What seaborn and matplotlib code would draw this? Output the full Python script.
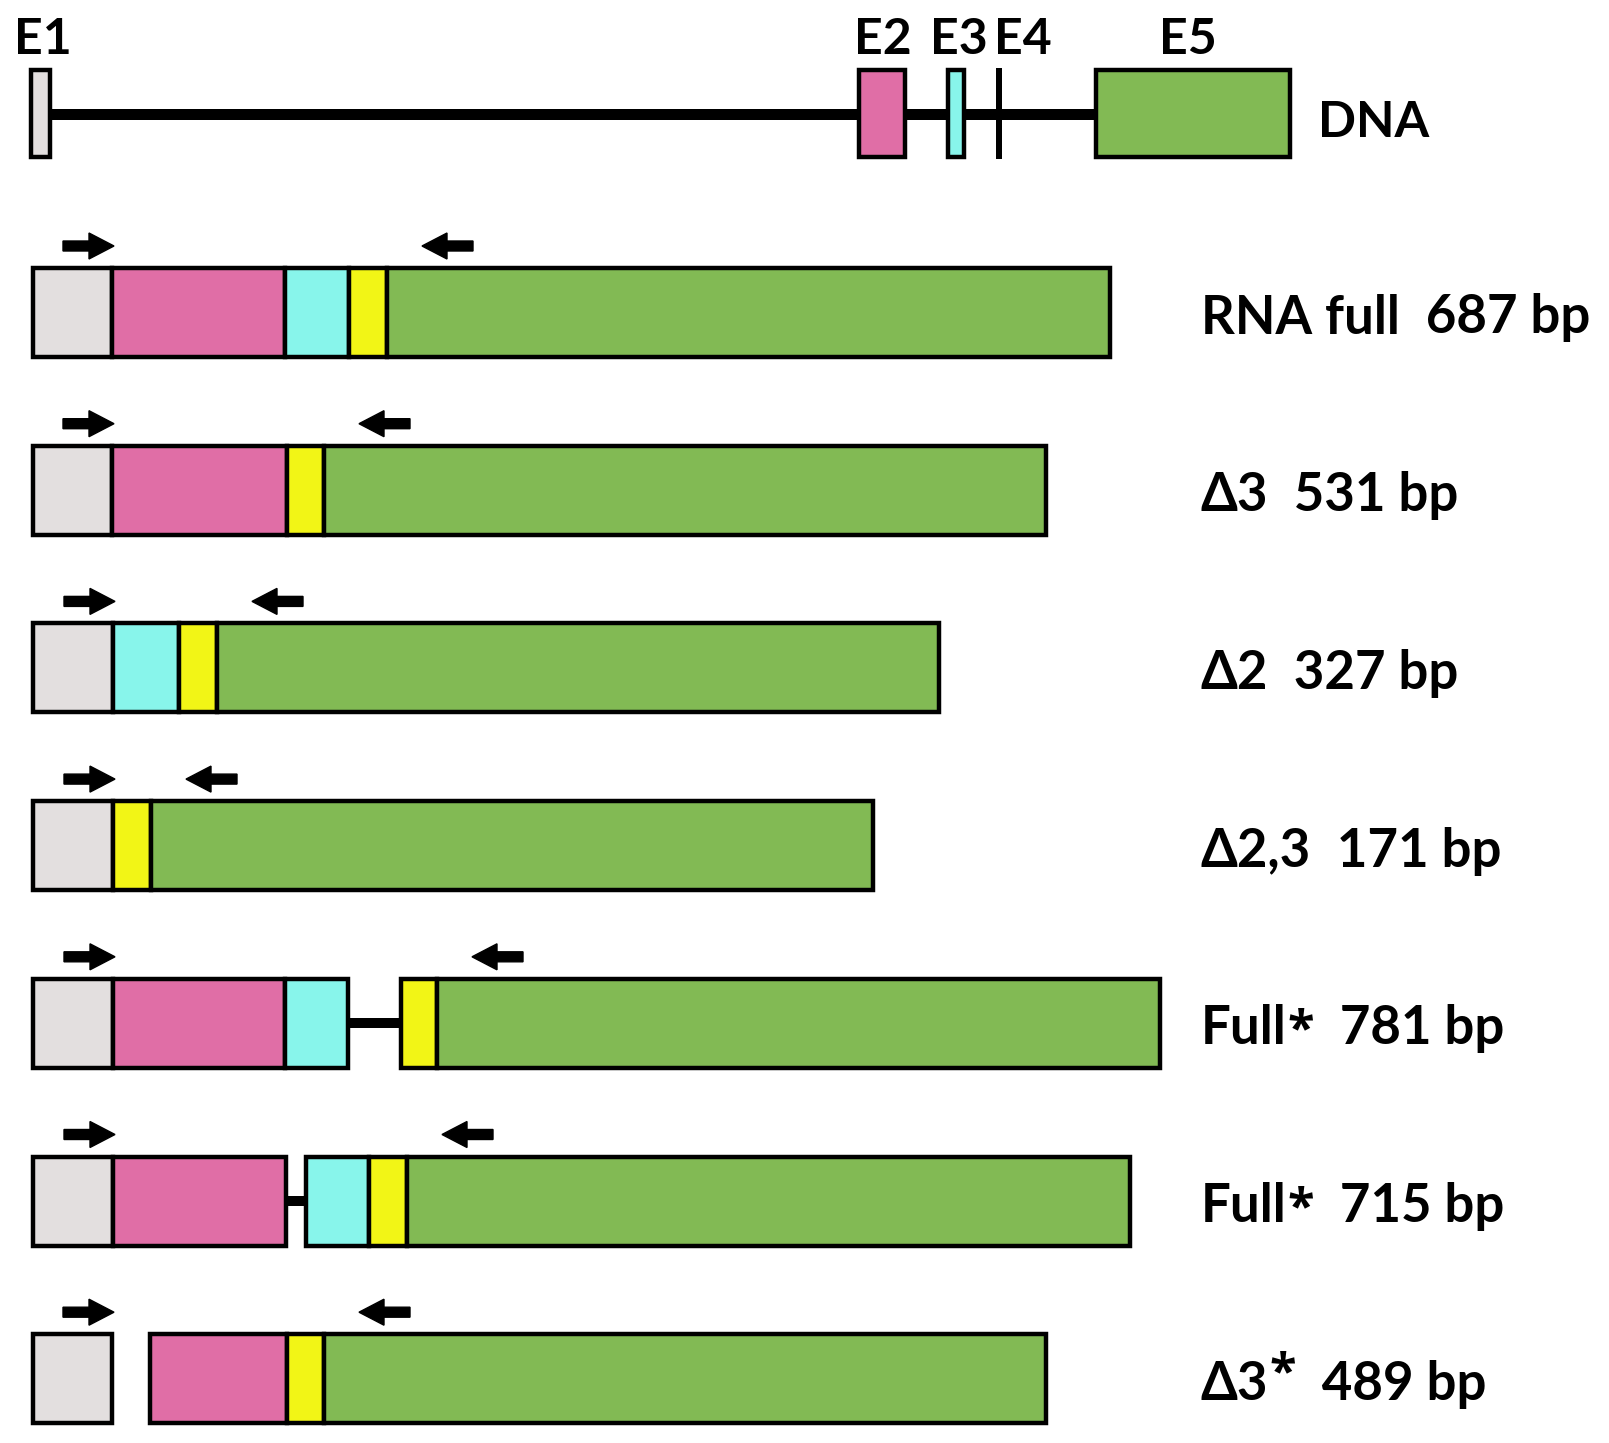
import matplotlib
matplotlib.use("Agg")
import matplotlib.pyplot as plt
import seaborn as sns
import pandas as pd

# ---------------- data ----------------
exon_names = ["E1", "E2", "E3", "E4", "E5"]
exon_colors = ["#E3DFDF", "#E06EA6", "#88F5EB", "#F2F516", "#82BA54"]

# genomic (DNA) exon extents
dna_exon_start = [31, 859, 948, 999, 1096]
dna_exon_end = [50, 905, 964, 999, 1290]

# transcript compositions: (exon or gap, length); gap tuples carry connector flag
transcripts = [
    [("E1", 79), ("E2", 173), ("E3", 64), ("E4", 38), ("E5", 723)],
    [("E1", 79), ("E2", 175), ("E4", 37), ("E5", 722)],
    [("E1", 80), ("E3", 66), ("E4", 38), ("E5", 722)],
    [("E1", 80), ("E4", 38), ("E5", 722)],
    [("E1", 80), ("E2", 172), ("E3", 63), ("gap", 53, True), ("E4", 36), ("E5", 723)],
    [("E1", 80), ("E2", 173), ("gap", 20, True), ("E3", 63), ("E4", 38), ("E5", 723)],
    [("E1", 79), ("gap", 38, False), ("E2", 137), ("E4", 37), ("E5", 722)],
]
transcript_names = ["RNA full", "\u03943", "\u03942", "\u03942,3", "Full", "Full", "\u03943"]
transcript_mark = ["", "", "", "", "*", "*", "*"]
mark_raised = [False, False, False, False, False, False, True]
transcript_sizes = ["687 bp", "531 bp", "327 bp", "171 bp", "781 bp", "715 bp", "489 bp"]

rev_primer_offset_in_E5 = 35
primer_length = 51

# ---------------- figure ----------------
W, H = 1609, 1443
sns.set_theme(style="white")
plt.rcParams["font.family"] = ["Lato", "Open Sans", "DejaVu Sans"]

fig = plt.figure(figsize=(W / 100, H / 100), dpi=100)
ax = fig.add_axes([0, 0, 1, 1])
ax.set_xlim(0, W)
ax.set_ylim(H, 0)
ax.axis("off")

color_of = dict(zip(exon_names, exon_colors))
EDGE = 3.2
PX = 0.72  # points per pixel

# ---- DNA ----
dna_top, dna_bot = 70, 157
dna_y = (dna_top + dna_bot) / 2
ax.plot([dna_exon_end[0], dna_exon_start[4]], [114, 114], color="black", lw=11 * PX, zorder=1,
        solid_capstyle="butt")
for name, s, e in zip(exon_names, dna_exon_start, dna_exon_end):
    if e - s < 1:
        ax.plot([s, s], [dna_top - 2, dna_bot + 2], color="black", lw=6 * PX, zorder=3,
                solid_capstyle="butt")
    else:
        ax.barh(dna_y, e - s, left=s, height=dna_bot - dna_top, color=color_of[name],
                edgecolor="black", linewidth=EDGE, zorder=3)

label_font = dict(fontsize=36, fontweight="bold", color="black")
dna_label_x = [43, 883, 959, 1023, 1188]
for name, lx in zip(exon_names, dna_label_x):
    ax.text(lx, 54, name, ha="center", va="baseline", **label_font)
ax.text(1318, 137, "DNA", ha="left", va="baseline", **label_font)

# ---- transcripts ----
row_top0, pitch, row_h = 268, 177.7, 89
x0 = 33
right_font = dict(fontsize=38, fontweight="bold", color="black")
mark_font = dict(fontsize=35, fontweight="bold", color="black",
                 family=["Open Sans", "DejaVu Sans"])

fig.canvas.draw()
renderer = fig.canvas.get_renderer()
inv = ax.transData.inverted()


def text_right_edge(t):
    bb = t.get_window_extent(renderer=renderer)
    return inv.transform((bb.x1, bb.y0))[0]


for i, segs in enumerate(transcripts):
    top = row_top0 + i * pitch
    yc = top + row_h / 2
    x = x0
    e5_start = None
    e1_end = None
    for seg in segs:
        kind, length = seg[0], seg[1]
        if kind == "gap":
            if seg[2]:
                ax.plot([x, x + length], [yc, yc], color="black", lw=10 * PX, zorder=1,
                        solid_capstyle="butt")
        else:
            ax.barh(yc, length, left=x, height=row_h, color=color_of[kind],
                    edgecolor="black", linewidth=EDGE, zorder=3)
            if kind == "E5":
                e5_start = x
            if kind == "E1":
                e1_end = x + length
        x += length

    ay = top - 22
    # forward primer
    ax.arrow(e1_end + 2 - primer_length, ay, primer_length, 0, width=10, head_width=26,
             head_length=25, length_includes_head=True, color="black", zorder=4)
    # reverse primer
    tip = e5_start + rev_primer_offset_in_E5
    ax.arrow(tip + primer_length, ay, -primer_length, 0, width=10, head_width=26,
             head_length=25, length_includes_head=True, color="black", zorder=4)

    # label
    base = yc + 21
    lx = 1201
    t1 = ax.text(lx, base, transcript_names[i], ha="left", va="baseline", **right_font)
    xe = text_right_edge(t1)
    if transcript_mark[i]:
        dy = 12 if mark_raised[i] else 0
        t2 = ax.text(xe + 1, base - dy, transcript_mark[i], ha="left", va="baseline",
                     **mark_font)
        xe = text_right_edge(t2)
    ax.text(xe, base, "  " + transcript_sizes[i], ha="left", va="baseline", **right_font)

fig.savefig("out.png", dpi=100, facecolor="white")
